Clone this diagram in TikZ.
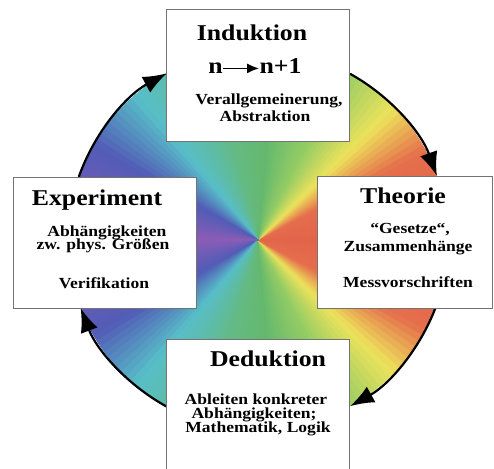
\documentclass[tikz,border=0pt]{standalone}
\usepackage{fontspec}
\setmainfont{Liberation Serif}[FakeStretch=1.14]
\usetikzlibrary{arrows.meta, positioning}

% colour stops of the wheel (0 deg = east, 180 deg = west)
\definecolor{c0}{RGB}{226,100,74}
\definecolor{c1}{RGB}{229,110,76}
\definecolor{c2}{RGB}{236,226,92}
\definecolor{c3}{RGB}{150,205,100}
\definecolor{c4}{RGB}{100,184,110}
\definecolor{c5}{RGB}{100,186,132}
\definecolor{c6}{RGB}{88,190,200}
\definecolor{c7}{RGB}{82,92,182}
\definecolor{c8}{RGB}{140,92,182}

\tikzset{
  box/.style={draw=black!55, line width=0.5pt, fill=white, inner sep=0pt},
  head/.style={font=\fontsize{11.3}{13}\selectfont\bfseries, anchor=base, inner sep=0pt},
  sub/.style={font=\fontsize{7.7}{9}\selectfont\bfseries, anchor=base, inner sep=0pt},
  flow/.style={line width=1.1pt, -{Latex[length=12pt, width=9pt]}},
}

\begin{document}
\begin{tikzpicture}[x=0.5pt, y=0.5pt]
  \useasboundingbox (-258,-228) rectangle (236,240);
  \coordinate (o) at (0,0);
  \def\R{190}

  % colour wheel
  \foreach \a in {-180,-178,...,178} {
    \pgfmathsetmacro\t{abs(\a+1)}
    \pgfmathtruncatemacro\k{(\t>=28)+(\t>=44)+(\t>=62)+(\t>=85)+(\t>=105)+(\t>=130)+(\t>=150)}
    \pgfmathtruncatemacro\kk{\k+1}
    \pgfmathsetmacro\lo{{0,28,44,62,85,105,130,150,180}[\k]}
    \pgfmathsetmacro\hi{{0,28,44,62,85,105,130,150,180}[\kk]}
    \pgfmathtruncatemacro\p{100*(\t-\lo)/(\hi-\lo)}
    \colorlet{wedge}{c\kk!\p!c\k}
    \filldraw[wedge, line width=0.2pt] (o) -- (\a:\R) arc[start angle=\a, end angle=\a+3, radius=\R] -- cycle;
  }

  % cycle arrows
  \draw[flow] (160.6:\R) arc[start angle=160.6, end angle=118.6, radius=\R];
  \draw[flow] (61:\R) arc[start angle=61, end angle=19.7, radius=\R];
  \draw[flow] (-21:\R) arc[start angle=-21, end angle=-61, radius=\R];
  \draw[flow] (-118.6:\R) arc[start angle=-118.6, end angle=-159, radius=\R];

  % boxes
  \node[box, minimum width=91.5pt, minimum height=66pt] (ind) at (0.5,165) {};
  \node[box, minimum width=87.5pt, minimum height=66pt] (the) at (147.5,-2) {};
  \node[box, minimum width=91.5pt, minimum height=65.5pt] (exp) at (-152.5,-2.5) {};
  \node[box, minimum width=91.5pt, minimum height=70.5pt] (ded) at (0.5,-169.5) {};

  % Induktion
  \node[head] (ind-t) at (-6,200) {Induktion};
  \node[head] (ind-n) at (-42.5,167) {n};
  \node[head] (ind-m) at (22.5,167) {n+1};
  \draw[line width=0.9pt, -{Latex[length=6pt, width=5pt]}] (ind-n.mid east) -- (ind-m.mid west);
  \node[sub] (ind-a) at (11,136) {Verallgemeinerung,};
  \node[sub] (ind-b) at (7,119) {Abstraktion};

  % Theorie
  \node[head] (the-t) at (145,37) {Theorie};
  \node[sub] (the-a) at (152,7) {“Gesetze“,};
  \node[sub] (the-b) at (150,-11) {Zusammenhänge};
  \node[sub] (the-c) at (150,-47) {Messvorschriften};

  % Experiment
  \node[head] (exp-t) at (-161,35) {Experiment};
  \node[sub] (exp-a) at (-151,4) {Abhängigkeiten};
  \node[sub] (exp-b) at (-155,-9) {zw. phys. Größen};
  \node[sub] (exp-c) at (-154,-48) {Verifikation};

  % Deduktion
  \node[head] (ded-t) at (10,-126) {Deduktion};
  \node[sub] (ded-a) at (-2,-164) {Ableiten konkreter};
  \node[sub] (ded-b) at (-4,-178) {Abhängigkeiten;};
  \node[sub] (ded-c) at (0,-192) {Mathematik, Logik};
\end{tikzpicture}
\end{document}
